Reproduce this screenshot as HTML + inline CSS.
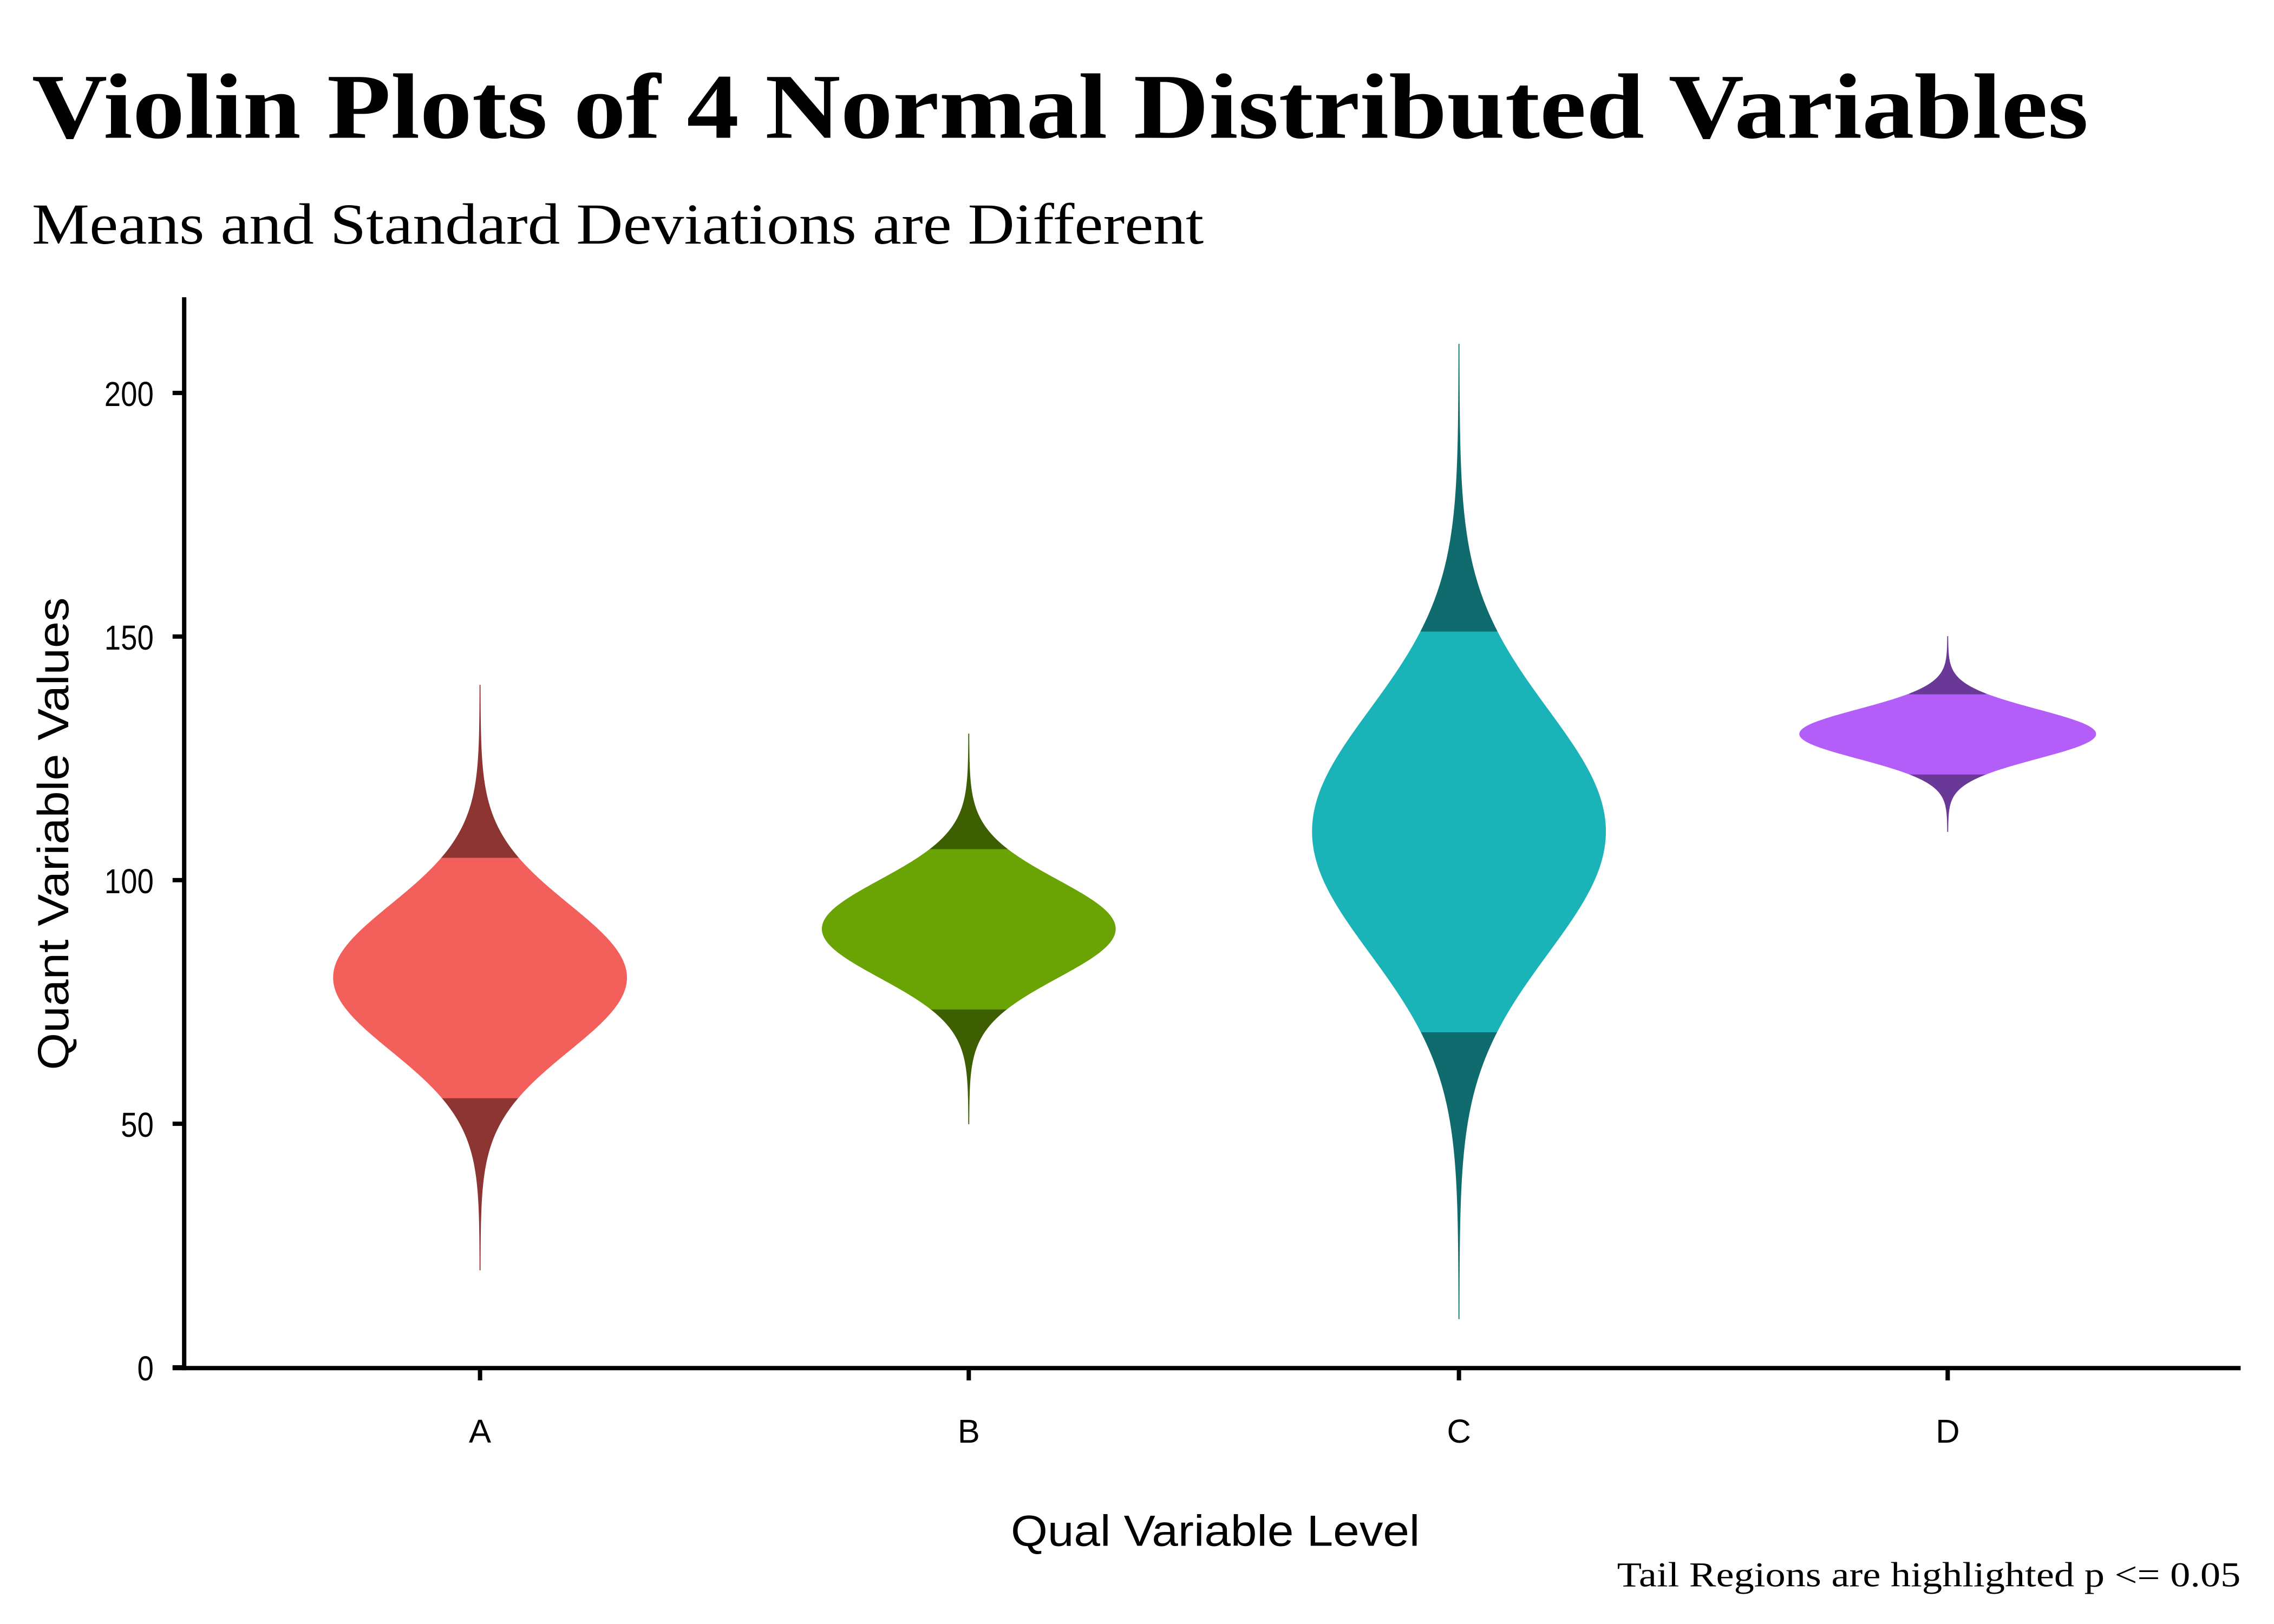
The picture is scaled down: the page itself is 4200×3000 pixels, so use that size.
<!DOCTYPE html>
<html><head><meta charset="utf-8">
<style>
html,body{margin:0;padding:0;background:#fff;}
svg{display:block;}
.ax{font-family:"Liberation Sans",sans-serif;}
.sr{font-family:"Liberation Serif",serif;}
</style></head>
<body>
<svg id="s" width="4200" height="3000" viewBox="0 0 1568 1120" xmlns="http://www.w3.org/2000/svg">
<rect width="1568" height="1120" fill="#fff"/>
<text class="sr" x="22" y="95" font-size="64" font-weight="bold" fill="#000" textLength="1418" lengthAdjust="spacingAndGlyphs">Violin Plots of 4 Normal Distributed Variables</text>
<text class="sr" x="22" y="168" font-size="40" fill="#000" textLength="808" lengthAdjust="spacingAndGlyphs">Means and Standard Deviations are Different</text>
<g id="v"></g>
<line x1="127" y1="205" x2="127" y2="945" stroke="#000" stroke-width="3"/>
<line x1="119" y1="943.5" x2="1545" y2="943.5" stroke="#000" stroke-width="3"/>
<g stroke="#000" stroke-width="3">
<line x1="119" y1="943" x2="127" y2="943"/><line x1="119" y1="775" x2="127" y2="775"/>
<line x1="119" y1="607" x2="127" y2="607"/><line x1="119" y1="439" x2="127" y2="439"/>
<line x1="119" y1="271" x2="127" y2="271"/>
<line x1="331" y1="943" x2="331" y2="952"/><line x1="668" y1="943" x2="668" y2="952"/>
<line x1="1006" y1="943" x2="1006" y2="952"/><line x1="1343" y1="943" x2="1343" y2="952"/>
</g>
<g class="ax" font-size="24" fill="#000" text-anchor="end" transform="scale(0.85,1)">
<text x="124.7" y="952">0</text><text x="124.7" y="784">50</text><text x="124.7" y="616">100</text>
<text x="124.7" y="448">150</text><text x="124.7" y="280">200</text>
</g>
<g class="ax" font-size="23" fill="#000" text-anchor="middle">
<text x="331" y="995">A</text><text x="668" y="995">B</text><text x="1006" y="995">C</text><text x="1343" y="995">D</text>
</g>
<text class="ax" x="838" y="1066" font-size="30" text-anchor="middle" textLength="282" lengthAdjust="spacingAndGlyphs">Qual Variable Level</text>
<text class="ax" transform="translate(47,575) rotate(-90)" font-size="30" text-anchor="middle" textLength="326" lengthAdjust="spacingAndGlyphs">Quant Variable Values</text>
<text class="sr" x="1545" y="1094" font-size="24" text-anchor="end" textLength="430" lengthAdjust="spacingAndGlyphs">Tail Regions are highlighted p &lt;= 0.05</text>
</svg>
<script>
(function(){
var g=document.getElementById('v');
function Y(v){return 943-v*3.36;}
var d=[
 {cx:331,m:80,s:15,lo:20,hi:140,w:101,f:'#f35f5b',t:'#8c3533'},
 {cx:668,m:90,s:10,lo:50,hi:130,w:101,f:'#6aa304',t:'#3d5f02'},
 {cx:1006,m:110,s:25,lo:10,hi:210,w:101,f:'#1ab3b7',t:'#0f6b6d'},
 {cx:1343,m:130,s:5,lo:110,hi:150,w:102,f:'#b45efa',t:'#6a3896'}
];
function path(o,a,b){
 var n=200,L=[],R=[];
 for(var i=0;i<=n;i++){
  var v=a+(b-a)*i/n,z=(v-o.m)/o.s,h=o.w*Math.exp(-z*z/2);
  L.push((o.cx-h).toFixed(2)+','+Y(v).toFixed(2));
  R.push((o.cx+h).toFixed(2)+','+Y(v).toFixed(2));
 }
 return 'M'+L.join(' L')+' L'+R.reverse().join(' L')+' Z';
}
var ns='http://www.w3.org/2000/svg';
d.forEach(function(o){
 var q=1.645*o.s;
 [[o.lo,o.m-q,o.t],[o.m-q,o.m+q,o.f],[o.m+q,o.hi,o.t]].forEach(function(p){
  var e=document.createElementNS(ns,'path');
  e.setAttribute('d',path(o,p[0],p[1]));e.setAttribute('fill',p[2]);
  e.setAttribute('stroke',p[2]);e.setAttribute('stroke-width','0.6');
  g.appendChild(e);
 });
});
})();
</script>
</body></html>
